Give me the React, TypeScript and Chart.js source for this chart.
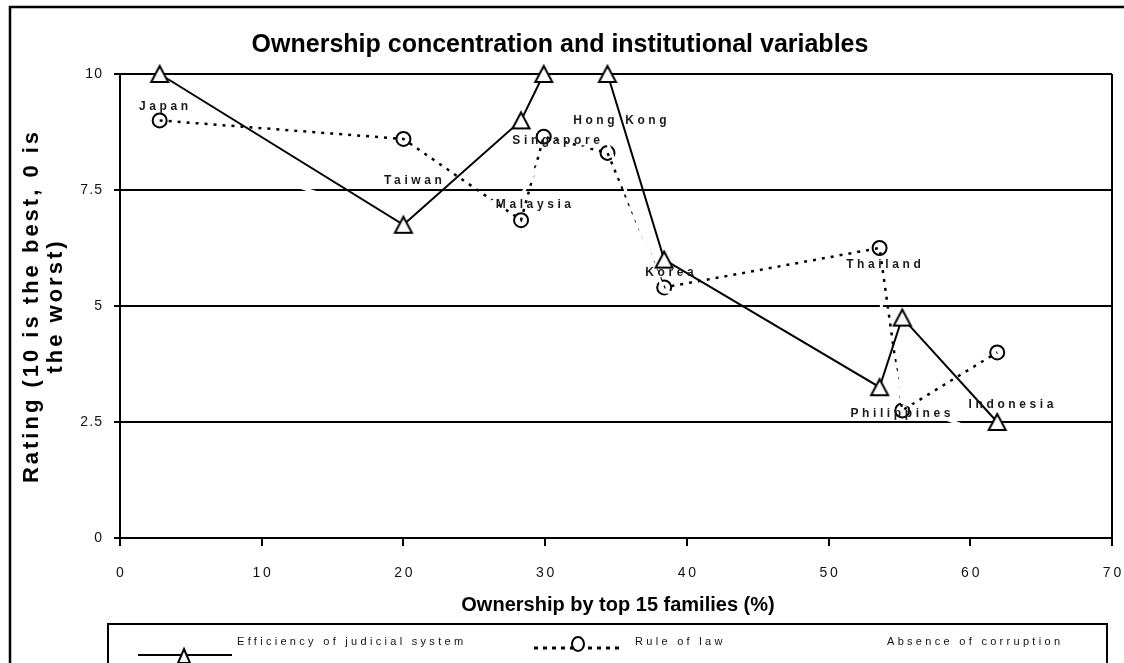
import React, { useEffect, useRef } from "react";
import { Chart, registerables } from "chart.js";

Chart.register(...registerables);

// ---------------- data ----------------
const countries = ["Japan", "Taiwan", "Malaysia", "Singapore", "Hong Kong", "Korea", "Thailand", "Philippines", "Indonesia"];
const ownership = [2.8, 20.0, 28.3, 29.9, 34.4, 38.4, 53.6, 55.2, 61.9];
const judicial = [10, 6.75, 9, 10, 10, 6, 3.25, 4.75, 2.5];
const ruleOfLaw = [9.0, 8.6, 6.85, 8.65, 8.3, 5.4, 6.25, 2.75, 4.0];
const corruption = [8.52, 6.85, 7.38, 8.22, 8.52, 5.3, 5.18, 2.92, 2.15];
// label anchor points (data units)
const labelAnchorX = [3.2, 20.8, 29.3, 30.9, 35.4, 38.9, 54.0, 55.2, 63.0];
const labelAnchorY = [9.29, 7.69, 7.18, 8.56, 8.99, 5.71, 5.88, 2.67, 2.87];
const xTickValues = [0, 10, 20, 30, 40, 50, 60, 70];
const yTickValues = [0, 2.5, 5, 7.5, 10];
const seriesNames = ["Efficiency of judicial system", "Rule of law", "Absence of corruption"];
const chartTitle = "Ownership concentration and institutional variables";
const xTitle = "Ownership by top 15 families (%)";
const yTitleLines = ["Rating (10 is the best, 0 is", "the worst)"];

const FONT = "'Liberation Sans', Arial, sans-serif";

function spaced(s: string, sep: string) {
  return s.split("").join(sep);
}

function trianglePath(ctx: CanvasRenderingContext2D, cx: number, cy: number, w: number, h: number) {
  ctx.beginPath();
  ctx.moveTo(cx, cy - h / 2);
  ctx.lineTo(cx + w / 2, cy + h / 2);
  ctx.lineTo(cx - w / 2, cy + h / 2);
  ctx.closePath();
  ctx.fillStyle = "#fff";
  ctx.fill();
  ctx.lineWidth = 2;
  ctx.strokeStyle = "#000";
  ctx.stroke();
}

function makeTriangleImage() {
  const c = document.createElement("canvas");
  c.width = 22;
  c.height = 22;
  const g = c.getContext("2d")!;
  trianglePath(g, 11, 11, 17, 16);
  return c;
}

const decorPlugin = {
  id: "decor",
  afterDatasetsDraw(chart: any) {
    const ctx: CanvasRenderingContext2D = chart.ctx;
    const xs = chart.scales.x;
    const ys = chart.scales.y;
    ctx.save();
    ctx.fillStyle = "#1a1a1a";
    ctx.font = `bold 12px ${FONT}`;
    (ctx as any).letterSpacing = "3.6px";
    ctx.textAlign = "center";
    ctx.textBaseline = "middle";
    countries.forEach((c, i) => {
      ctx.fillText(c, xs.getPixelForValue(labelAnchorX[i]), ys.getPixelForValue(labelAnchorY[i]));
    });
    ctx.restore();
  },
  afterDraw(chart: any) {
    const ctx: CanvasRenderingContext2D = chart.ctx;
    const area = chart.chartArea;
    ctx.save();
    // outer frame (top + left)
    ctx.strokeStyle = "#000";
    ctx.lineWidth = 2.5;
    ctx.beginPath();
    ctx.moveTo(10, 663);
    ctx.lineTo(10, 7);
    ctx.lineTo(1124, 7);
    ctx.stroke();
    // plot right border
    ctx.lineWidth = 2;
    ctx.beginPath();
    ctx.moveTo(area.right, area.top);
    ctx.lineTo(area.right, area.bottom);
    ctx.stroke();

    // title
    ctx.fillStyle = "#000";
    ctx.textAlign = "center";
    ctx.textBaseline = "alphabetic";
    ctx.font = `bold 25px ${FONT}`;
    ctx.fillText(chartTitle, 560, 52);

    // x title
    ctx.font = `bold 20px ${FONT}`;
    ctx.fillText(xTitle, 618, 611);

    // y title
    ctx.save();
    ctx.translate(0, 306);
    ctx.rotate(-Math.PI / 2);
    ctx.font = `bold 22px ${FONT}`;
    (ctx as any).letterSpacing = "3px";
    ctx.textBaseline = "middle";
    ctx.fillText(yTitleLines[0], 0, 32);
    ctx.fillText(yTitleLines[1], 0, 56);
    ctx.restore();

    // legend box
    ctx.lineWidth = 2;
    ctx.strokeStyle = "#000";
    ctx.strokeRect(108, 624, 999, 80);
    // judicial sample
    ctx.beginPath();
    ctx.moveTo(138, 655);
    ctx.lineTo(232, 655);
    ctx.stroke();
    trianglePath(ctx, 184, 656, 12, 14);
    // rule of law sample
    ctx.save();
    ctx.setLineDash([4, 5]);
    ctx.lineWidth = 3;
    ctx.beginPath();
    ctx.moveTo(534, 648);
    ctx.lineTo(624, 648);
    ctx.stroke();
    ctx.restore();
    ctx.beginPath();
    ctx.ellipse(578, 644, 6, 7, 0, 0, Math.PI * 2);
    ctx.fillStyle = "#fff";
    ctx.fill();
    ctx.lineWidth = 2;
    ctx.strokeStyle = "#000";
    ctx.stroke();
    // legend texts
    ctx.fillStyle = "#111";
    ctx.textAlign = "left";
    ctx.textBaseline = "alphabetic";
    ctx.font = `11px ${FONT}`;
    (ctx as any).letterSpacing = "3.3px";
    ctx.fillText(seriesNames[0], 237, 645);
    ctx.fillText(seriesNames[1], 635, 645);
    ctx.fillText(seriesNames[2], 887, 645);
    ctx.restore();
  },
};

export default function App() {
  const ref = useRef<HTMLCanvasElement | null>(null);
  useEffect(() => {
    if (!ref.current) return;
    const toPts = (ys: number[]) => ys.map((y, i) => ({ x: ownership[i], y }));
    const triImg = makeTriangleImage();
    const chart = new Chart(ref.current, {
      type: "scatter",
      data: {
        datasets: [
          {
            label: seriesNames[0],
            data: toPts(judicial),
            showLine: true,
            clip: false,
            borderColor: "#000",
            borderWidth: 2,
            pointStyle: triImg,
            pointRadius: 10,
            order: 0,
          },
          {
            label: seriesNames[1],
            data: toPts(ruleOfLaw),
            showLine: true,
            clip: false,
            borderColor: "#000",
            borderWidth: 2.5,
            borderDash: [3, 6],
            pointStyle: "circle",
            pointRadius: 7,
            pointBackgroundColor: "rgba(255,255,255,0)",
            pointBorderColor: "#000",
            pointBorderWidth: 2,
            order: 2,
          },
          {
            label: seriesNames[2],
            data: toPts(corruption),
            showLine: true,
            borderColor: "#fff",
            borderWidth: 3,
            pointRadius: 0,
            order: 1,
          },
        ],
      },
      options: {
        responsive: false,
        animation: false,
        devicePixelRatio: 1,
        layout: { padding: { top: 74, right: 10, left: 0, bottom: 0 } },
        plugins: {
          legend: { display: false },
          tooltip: { enabled: false },
          title: { display: false },
        },
        scales: {
          x: {
            type: "linear",
            min: 0,
            max: 70,
            afterFit: (s: any) => {
              s.height = 125;
              s.paddingLeft = 0;
              s.paddingRight = 0;
            },
            afterBuildTicks: (s: any) => {
              s.ticks = xTickValues.map((v) => ({ value: v }));
            },
            ticks: {
              autoSkip: false,
              maxRotation: 0,
              padding: 19,
              color: "#111",
              font: { family: FONT, size: 14 },
              callback: (v: any) => spaced(String(v), "\u2009"),
            },
            grid: {
              drawOnChartArea: false,
              drawTicks: true,
              tickLength: 8,
              color: "#000",
              lineWidth: 2,
            },
            border: { display: true, color: "#000", width: 2 },
          },
          y: {
            min: 0,
            max: 10,
            afterFit: (s: any) => {
              s.width = 120;
              s.paddingTop = 0;
              s.paddingBottom = 0;
            },
            afterBuildTicks: (s: any) => {
              s.ticks = yTickValues.map((v) => ({ value: v }));
            },
            ticks: {
              padding: 12,
              color: "#111",
              font: { family: FONT, size: 14 },
              callback: (v: any) => spaced(String(v), "\u200A"),
            },
            grid: {
              color: "#000",
              lineWidth: 2,
              tickLength: 6,
            },
            border: { display: true, color: "#000", width: 2 },
          },
        },
      } as any,
      plugins: [decorPlugin],
    });
    return () => chart.destroy();
  }, []);
  return (
    <div style={{ position: "absolute", left: 0, top: 0, width: 1124, height: 663, background: "#fff" }}>
      <canvas ref={ref} width={1124} height={663} style={{ display: "block", width: 1124, height: 663 }} />
    </div>
  );
}
